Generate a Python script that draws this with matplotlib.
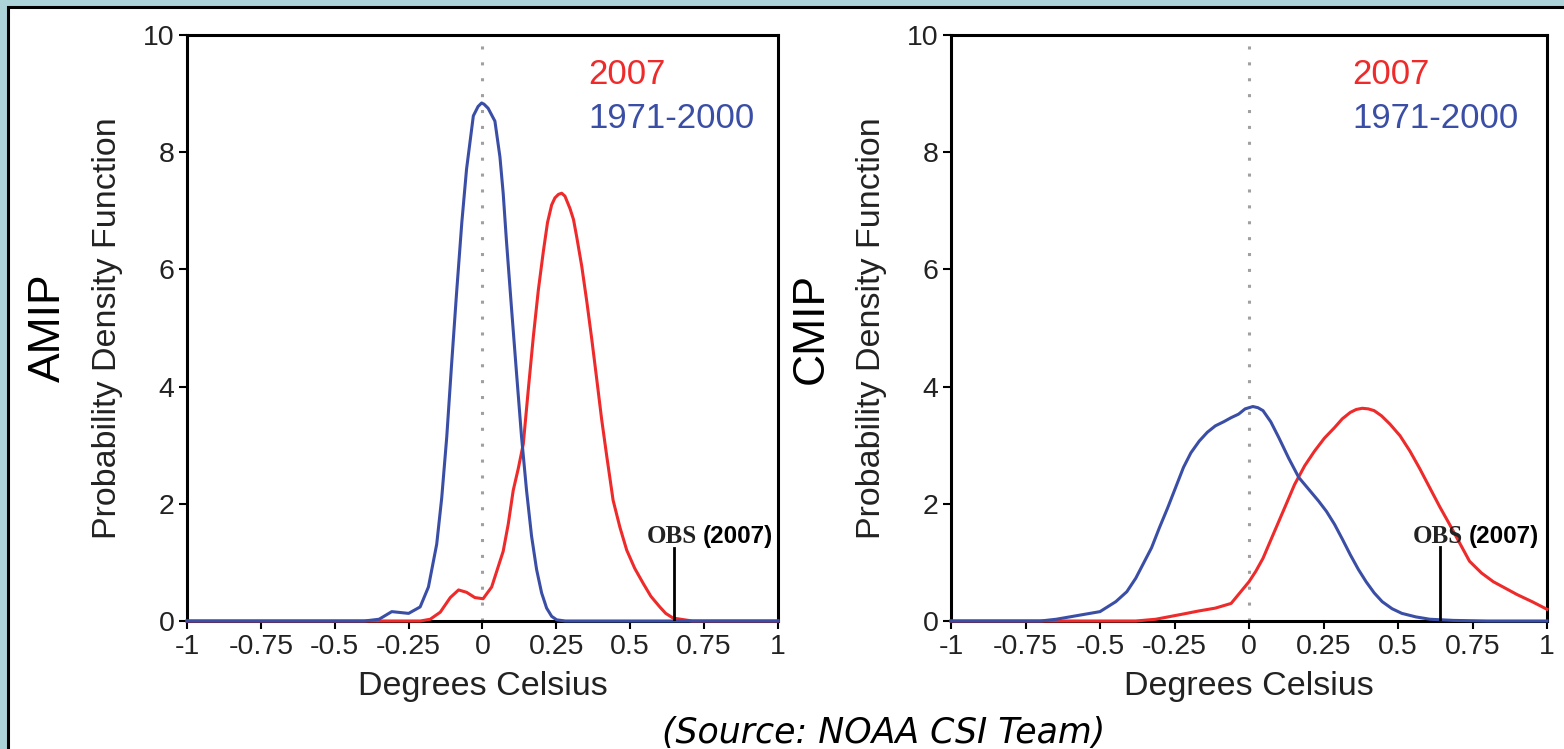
import matplotlib
matplotlib.use("Agg")
import matplotlib.pyplot as plt
from matplotlib.patches import Rectangle

plt.rcParams["font.family"] = ["Liberation Sans", "DejaVu Sans"]

# AMIP ensemble PDFs
amip_clim_x = [-1, -0.4, -0.35, -0.307, -0.25, -0.211, -0.183, -0.155, -0.138, -0.121,
               -0.105, -0.088, -0.07, -0.054, -0.031, -0.015, -0.003, 0.005, 0.019, 0.042,
               0.059, 0.07, 0.081, 0.098, 0.115, 0.132, 0.149, 0.166, 0.183, 0.2,
               0.217, 0.234, 0.251, 0.28, 1]
amip_clim_y = [0, 0, 0.03, 0.16, 0.13, 0.24, 0.58, 1.31, 2.1, 3.14,
               4.35, 5.58, 6.8, 7.71, 8.62, 8.78, 8.84, 8.82, 8.75, 8.53,
               7.92, 7.3, 6.49, 5.35, 4.24, 3.15, 2.23, 1.45, 0.88, 0.48,
               0.22, 0.08, 0.02, 0, 0]
amip_2007_x = [-1, -0.21, -0.177, -0.143, -0.109, -0.081, -0.054, -0.026, 0.002, 0.031,
               0.070, 0.087, 0.104, 0.121, 0.138, 0.155, 0.172, 0.189, 0.206, 0.22,
               0.234, 0.245, 0.257, 0.268, 0.279, 0.296, 0.308, 0.319, 0.336, 0.353,
               0.37, 0.387, 0.403, 0.420, 0.442, 0.465, 0.488, 0.515, 0.544, 0.57,
               0.60, 0.62, 0.645, 0.71, 1]
amip_2007_y = [0, 0, 0.03, 0.15, 0.4, 0.53, 0.49, 0.4, 0.38, 0.58,
               1.19, 1.65, 2.23, 2.6, 3.02, 3.95, 4.85, 5.65, 6.31, 6.8,
               7.1, 7.22, 7.28, 7.3, 7.25, 7.04, 6.85, 6.55, 6.05, 5.45,
               4.8, 4.11, 3.45, 2.83, 2.06, 1.6, 1.21, 0.9, 0.64, 0.42,
               0.24, 0.13, 0.05, 0, 0]

# CMIP ensemble PDFs
cmip_clim_x = [-1, -0.7, -0.647, -0.5, -0.447, -0.41, -0.38, -0.327, -0.3, -0.273,
               -0.22, -0.195, -0.167, -0.14, -0.113, -0.085, -0.06, -0.035, -0.013, 0.013,
               0.03, 0.047, 0.073, 0.1, 0.133, 0.167, 0.2, 0.233, 0.26, 0.287,
               0.313, 0.34, 0.367, 0.393, 0.42, 0.447, 0.48, 0.513, 0.56, 0.607,
               0.687, 0.8, 1]
cmip_clim_y = [0, 0, 0.03, 0.16, 0.33, 0.5, 0.73, 1.25, 1.6, 1.93,
               2.62, 2.87, 3.07, 3.22, 3.33, 3.4, 3.47, 3.53, 3.62, 3.66,
               3.64, 3.59, 3.4, 3.13, 2.78, 2.45, 2.25, 2.05, 1.87, 1.65,
               1.4, 1.13, 0.88, 0.67, 0.48, 0.33, 0.21, 0.13, 0.07, 0.03,
               0.01, 0, 0]
cmip_2007_x = [-1, -0.38, -0.313, -0.22, -0.17, -0.113, -0.06, 0, 0.023, 0.047,
               0.073, 0.1, 0.127, 0.153, 0.187, 0.22, 0.253, 0.287, 0.313, 0.34,
               0.36, 0.38, 0.4, 0.42, 0.445, 0.473, 0.507, 0.54, 0.573, 0.607,
               0.64, 0.673, 0.707, 0.74, 0.78, 0.82, 0.86, 0.9, 0.95, 1.0]
cmip_2007_y = [0, 0, 0.03, 0.12, 0.17, 0.22, 0.3, 0.67, 0.85, 1.07,
               1.38, 1.7, 2.02, 2.33, 2.65, 2.9, 3.12, 3.3, 3.45, 3.56,
               3.61, 3.63, 3.62, 3.59, 3.5, 3.36, 3.16, 2.9, 2.6, 2.27,
               1.95, 1.65, 1.33, 1.02, 0.82, 0.67, 0.56, 0.45, 0.33, 0.2]

# observed 2007 anomaly marker (x, height) per panel
obs_amip = [0.649, 1.25]
obs_cmip = [0.641, 1.27]

x_ticks = [-1, -0.75, -0.5, -0.25, 0, 0.25, 0.5, 0.75, 1]
x_tick_labels = ["-1", "-0.75", "-0.5", "-0.25", "0", "0.25", "0.5", "0.75", "1"]
y_ticks = [0, 2, 4, 6, 8, 10]

red = "#ee2a2a"
blue = "#3a4ea6"

fig = plt.figure(figsize=(15.64, 7.49), dpi=100)
fig.patch.set_facecolor("#acd3d8")
fig.patches.append(Rectangle((8 / 1564, -0.1), 1.2, 0.1 + (749 - 7) / 749,
                             transform=fig.transFigure, facecolor="white",
                             edgecolor="black", linewidth=2.2, zorder=-1))

ax_amip = fig.add_axes([187 / 1564, 128 / 749, 591 / 1564, 586 / 749])
ax_cmip = fig.add_axes([951 / 1564, 128 / 749, 596 / 1564, 586 / 749])

panels = [
    (ax_amip, "AMIP", amip_2007_x, amip_2007_y, amip_clim_x, amip_clim_y, obs_amip, 0.357, 0.727, 0.745),
    (ax_cmip, "CMIP", cmip_2007_x, cmip_2007_y, cmip_clim_x, cmip_clim_y, obs_cmip, 0.346, 0.718, 0.738),
]

for ax, name, rx, ry, bx, by, obs, legend_x, obs_right, year_left in panels:
    ax.set_facecolor("none")
    ax.axvline(0, color="#a0a0a0", linewidth=2.2, linestyle=(0, (1, 4.2)), zorder=1)
    ax.plot(rx, ry, color=red, linewidth=2.2, zorder=3, clip_on=False)
    ax.plot(bx, by, color=blue, linewidth=2.2, zorder=4, clip_on=False)
    ax.plot([obs[0], obs[0]], [0, obs[1]], color="black", linewidth=2.0, zorder=5)
    ax.text(obs_right, 1.33, "OBS", fontsize=18, fontweight="bold",
            family=["Liberation Serif"], ha="right", va="baseline", color="#222222")
    ax.text(year_left, 1.33, "(2007)", fontsize=17.5, fontweight="bold",
            ha="left", va="baseline", color="black")

    ax.text(legend_x, 9.32, "2007", color=red, fontsize=25, ha="left", va="center")
    ax.text(legend_x, 8.58, "1971-2000", color=blue, fontsize=25, ha="left", va="center")

    ax.set_xlim(-1, 1)
    ax.set_ylim(0, 10)
    ax.set_xticks(x_ticks)
    ax.set_xticklabels(x_tick_labels)
    ax.set_yticks(y_ticks)
    ax.tick_params(axis="both", direction="out", length=6, width=1.5,
                   labelsize=20.5, colors="black", labelcolor="#222222", pad=3)
    for spine in ax.spines.values():
        spine.set_linewidth(2.2)
    ax.set_xlabel("Degrees Celsius", fontsize=24.5, color="#222222", labelpad=8)
    ax.set_ylabel("Probability Density Function", fontsize=24.5, color="#222222", labelpad=14)
    ax.text(-0.235, 0.5, name, transform=ax.transAxes, rotation=90, fontsize=32,
            ha="center", va="center", color="black")

fig.text(0.565, 0.021, "(Source: NOAA CSI Team)", fontsize=25, style="italic",
         family=["DejaVu Sans"], ha="center", va="center", color="black")

plt.savefig("out.png", dpi=100, facecolor=fig.get_facecolor())
